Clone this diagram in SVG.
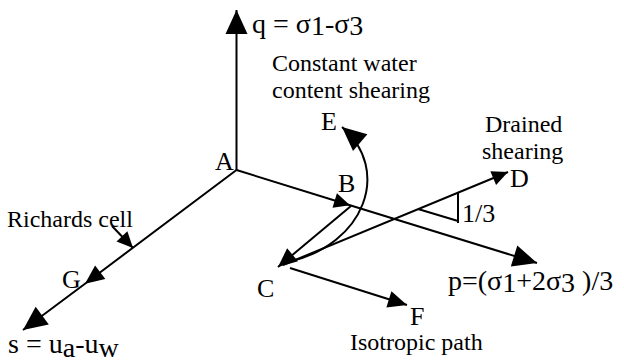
<svg xmlns="http://www.w3.org/2000/svg" width="624" height="362" viewBox="0 0 624 362">
<style>
text{font-family:"Liberation Serif","Times New Roman",serif;fill:#000}
.cap{font-size:24px}
.lab{font-size:26px}
.frm{font-size:28px}
.ln{fill:none;stroke:#000;stroke-width:2}
</style>
<defs>
<marker id="ab" markerUnits="userSpaceOnUse" viewBox="0 0 24 22" markerWidth="24" markerHeight="22" refX="24" refY="11" orient="auto" overflow="visible"><path d="M0,0 L24,11 L0,22 z" fill="#000"/></marker>
<marker id="am" markerUnits="userSpaceOnUse" viewBox="0 0 19 17" markerWidth="19" markerHeight="17" refX="19" refY="8.5" orient="auto" overflow="visible"><path d="M0,0 L19,8.5 L0,17 z" fill="#000"/></marker>
<marker id="as" markerUnits="userSpaceOnUse" viewBox="0 0 16 15" markerWidth="16" markerHeight="15" refX="16" refY="7.5" orient="auto" overflow="visible"><path d="M0,0 L16,7.5 L0,15 z" fill="#000"/></marker>
</defs>
<g id="connectors">
<path class="ln" d="M236.5,170 V10" marker-end="url(#ab)"/>
<path class="ln" d="M236.5,170 L85,283.7 L23,330" marker-mid="url(#am)" marker-end="url(#ab)"/>
<path class="ln" d="M236.5,170 L350,205.2 L537,263" marker-mid="url(#as)" marker-end="url(#ab)"/>
<path class="ln" d="M351,206 L278,267" marker-end="url(#am)"/>
<path class="ln" d="M283,265 L508,172" marker-end="url(#as)"/>
<path class="ln" d="M288,262 C365,245 392,170 342,127" marker-end="url(#ab)"/>
<path class="ln" d="M290,268 L407,305" marker-end="url(#am)"/>
<path class="ln" d="M112,226 L133,248" marker-end="url(#as)"/>
<path class="ln" d="M418,209 L458,221 M458,192 V223"/>
</g>
<g id="node-A"><text class="lab" x="215" y="170">A</text></g>
<g id="node-B"><text class="lab" x="338" y="192">B</text></g>
<g id="node-C"><text class="lab" x="257" y="297">C</text></g>
<g id="node-D"><text class="lab" x="510" y="187">D</text></g>
<g id="node-E"><text class="lab" x="321" y="130">E</text></g>
<g id="node-F"><text class="lab" x="410" y="325">F</text></g>
<g id="node-G"><text class="lab" x="62" y="288">G</text></g>
<g id="labels">
<text class="frm" x="252" y="33">q = σ<tspan dy="2">1</tspan><tspan dy="-2">-σ</tspan><tspan dy="2">3</tspan></text>
<text class="cap" x="272" y="71">Constant water</text>
<text class="cap" x="272" y="98">content shearing</text>
<text class="cap" x="485" y="132">Drained</text>
<text class="cap" x="482" y="159">shearing</text>
<text class="lab" x="462" y="222">1/3</text>
<text class="frm" x="448" y="290">p=(σ<tspan dy="2">1</tspan><tspan dy="-2">+2σ</tspan><tspan dy="2">3</tspan><tspan dy="-2"> )/3</tspan></text>
<text class="cap" x="7" y="227">Richards cell</text>
<text class="frm" x="8" y="353">s = u<tspan dy="4">a</tspan><tspan dy="-4">-u</tspan><tspan dy="4">w</tspan></text>
<text class="cap" x="350" y="350">Isotropic path</text>
</g>
</svg>
